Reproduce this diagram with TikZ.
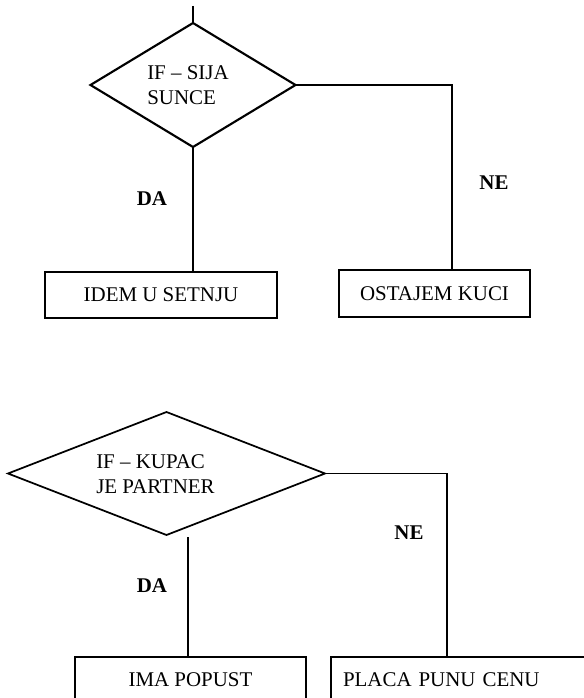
\documentclass[tikz,border=0pt]{standalone}
\usepackage{fontspec}
\setmainfont{Liberation Serif}
\usetikzlibrary{shapes.geometric}
\begin{document}
\begin{tikzpicture}[x=0.75pt,y=-0.75pt,
  font=\fontsize{15.7}{18.75}\selectfont,
  dec/.style={diamond, draw, inner sep=0pt, outer sep=0pt},
  box/.style={rectangle, draw, inner sep=0pt, outer sep=0pt, minimum height=34.5pt},
  lab/.style={font=\fontsize{15.7}{18.75}\selectfont\bfseries, inner sep=0pt},
  txt/.style={align=left, inner sep=0pt, anchor=west},
  lineA/.style={line width=1.6pt},
  lineB/.style={line width=1.3pt}]
\useasboundingbox (0,0) rectangle (584,698);
\clip (0,0) rectangle (584,698);
% ---- first decision ----
\node[dec, lineA, minimum width=153.75pt, minimum height=93pt] (d1) at (193,85) {};
\node[txt] (t1) at (147,85) {IF – SIJA\\SUNCE};
\node[box, lineA, minimum width=174pt] (b1) at (161,295) {IDEM U SETNJU};
\node[box, line width=1.8pt, minimum width=143.25pt, minimum height=35.25pt] (b2) at (434.5,293.5) {OSTAJEM KUCI};
\coordinate (top0) at (193,6);
\coordinate (c1) at (452,0);
\draw[lineA] (top0) -- (d1.north);
\draw[lineA] (d1.south) -- (d1.south |- b1.north);
\draw[line width=2pt] (d1.east) -| (c1 |- b2.north);
\node[lab] (da1) at (152,199) {DA};
\node[lab] (ne1) at (494,183) {NE};
% ---- second decision ----
\node[dec, lineB, minimum width=237.75pt, minimum height=92.25pt] (d2) at (166.5,473.5) {};
\node[txt] (t2) at (96,474) {IF – KUPAC\\JE PARTNER};
\node[box, lineB, minimum width=173.25pt, anchor=north west] (b3) at (75,657) {IMA POPUST};
\node[box, lineB, anchor=north west, minimum width=210pt, text width=192pt, align=left, inner xsep=9pt] (b4) at (331,657) {PLACA PUNU CENU};
\coordinate (c2) at (188,537);
\coordinate (c3) at (447,0);
\draw[lineB] (c2) -- (c2 |- b3.north);
\draw[lineB] (d2.east) -| (c3 |- b4.north);
\node[lab] (da2) at (152,586) {DA};
\node[lab] (ne2) at (409,533) {NE};
\end{tikzpicture}
\end{document}
